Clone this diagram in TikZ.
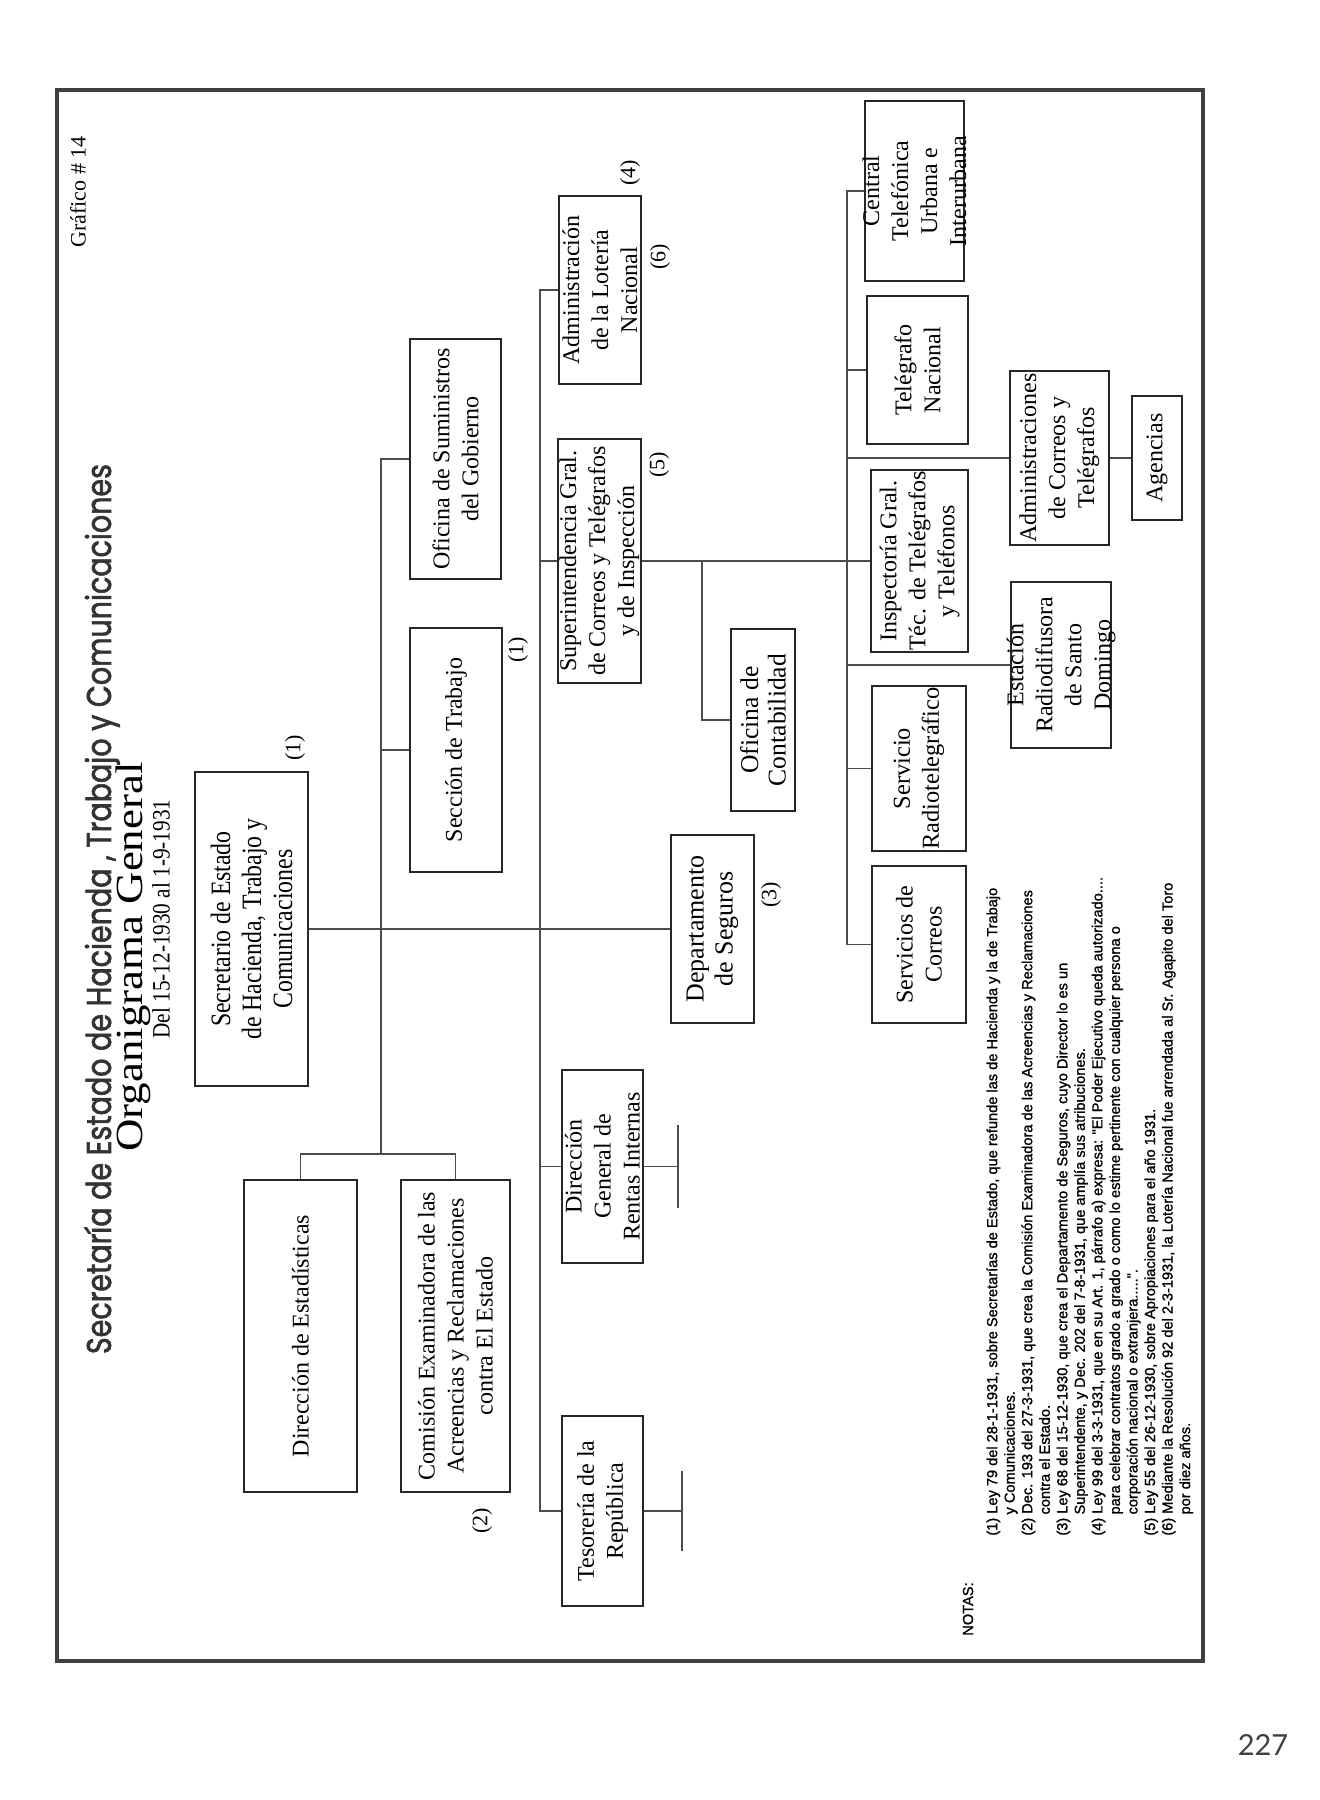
\documentclass[tikz,border=0pt]{standalone}
\usepackage{fontspec}
\setmainfont{Liberation Serif}
\newfontfamily\titlefont[FakeBold=2]{Poppins}
\newfontfamily\notefont[FakeBold=1.2]{Liberation Sans}
\newfontfamily\condfont[FakeStretch=0.85]{Liberation Serif}
\newfontfamily\wideserif[FakeStretch=1.17]{Liberation Serif}
\newfontfamily\pagefont{Lato}
\usetikzlibrary{fit}
\begin{document}
\begin{tikzpicture}[x=0.5pt,y=-0.5pt,
  box/.style={draw=black!85,line width=1.1pt,inner sep=0pt,rectangle},
  txt/.style={rotate=90,align=center,inner sep=0pt,font=\fontsize{12}{14.5}\selectfont},
  lbl/.style={rotate=90,inner sep=0pt,font=\fontsize{11}{13}\selectfont},
  conn/.style={draw=black!70,line width=0.75pt}]
\fill[white] (0,0) rectangle (1320,1800);
\useasboundingbox (0,0) rectangle (1320,1800);
% frame
\draw[line width=1.8pt,draw=black!75] (57,90) rectangle (1203,1661);
% headings
\node[rotate=90,inner sep=0pt,font=\fontsize{11}{13}\selectfont] (graf) at (78,192) {Gráfico \# 14};
\node[rotate=90,inner sep=0pt,text=black!80] (title) at (102,909) {\scalebox{1}[1.2]{\resizebox{445pt}{!}{\titlefont Secretaría de Estado de Hacienda , Trabajo y Comunicaciones}}};
\node[rotate=90,inner sep=0pt,font=\wideserif\fontsize{19.2}{23}\selectfont] (org) at (133,957) {Organigrama General};
\node[rotate=90,inner sep=0pt,font=\condfont\fontsize{12.5}{15}\selectfont] (del) at (161,919) {Del 15-12-1930 al 1-9-1931};
% boxes
\node[box,fit={(195,772) (308,1086)}] (sec) {};
\node[box,fit={(410,339) (501,579)}] (ofs) {};
\node[box,fit={(410,628) (502,872)}] (sdt) {};
\node[box,fit={(244,1180) (357,1492)}] (des) {};
\node[box,fit={(401,1180) (510,1492)}] (com) {};
\node[box,fit={(559,196) (641,384)}] (adm) {};
\node[box,fit={(558,439) (641,683)}] (sup) {};
\node[box,fit={(562,1070) (643,1263)}] (dgr) {};
\node[box,fit={(562,1416) (643,1606)}] (tes) {};
\node[box,fit={(671,835) (754,1023)}] (seg) {};
\node[box,fit={(731,629) (795,811)}] (con) {};
\node[box,fit={(865,101) (964,281)}] (cen) {};
\node[box,fit={(867,296) (968,444)}] (tel) {};
\node[box,fit={(871,470) (968,652)}] (ins) {};
\node[box,fit={(1011,582) (1111,748)}] (est) {};
\node[box,fit={(872,686) (966,851)}] (srt) {};
\node[box,fit={(872,866) (966,1023)}] (sco) {};
\node[box,fit={(1010,371) (1109,545)}] (adc) {};
\node[box,fit={(1132,396) (1182,520)}] (age) {};
% box texts
\node[txt,font=\condfont\fontsize{14}{15.5}\selectfont] (sec-t) at (sec.center) {Secretario de Estado\\de Hacienda, Trabajo y\\Comunicaciones};
\node[txt] (ofs-t) at (ofs.center) {Oficina de Suministros\\del Gobierno};
\node[txt] (sdt-t) at (sdt.center) {Sección de Trabajo};
\node[txt] (des-t) at (des.center) {Dirección de Estadísticas};
\node[txt] (com-t) at (com.center) {Comisión Examinadora de las\\Acreencias y Reclamaciones\\contra El Estado};
\node[txt] (adm-t) at (adm.center) {Administración\\de la Lotería\\Nacional};
\node[txt] (sup-t) at (sup.center) {Superintendencia Gral.\\de Correos y Telégrafos\\y de Inspección};
\node[txt] (dgr-t) at (dgr.center) {Dirección\\General de\\Rentas Internas};
\node[txt] (tes-t) at (tes.center) {Tesorería de la\\República};
\node[txt,font=\fontsize{13}{14.5}\selectfont] (seg-t) at (seg.center) {Departamento\\de Seguros};
\node[txt,font=\fontsize{12.8}{13.8}\selectfont] (con-t) at (con.center) {Oficina de\\Contabilidad};
\node[txt] (cen-t) at (cen.center) {Central\\Telefónica\\Urbana e\\Interurbana};
\node[txt] (tel-t) at (tel.center) {Telégrafo\\Nacional};
\node[txt] (ins-t) at (ins.center) {Inspectoría Gral.\\Téc. de Telégrafos\\y Teléfonos};
\node[txt] (est-t) at (est.center) {Estación\\Radiodifusora\\de Santo\\Domingo};
\node[txt,font=\fontsize{12.2}{14.5}\selectfont] (srt-t) at (srt.center) {Servicio\\Radiotelegráfico};
\node[txt] (sco-t) at (sco.center) {Servicios de\\Correos};
\node[txt] (adc-t) at (adc.center) {Administraciones\\de Correos y\\Telégrafos};
\node[txt] (age-t) at (age.center) {Agencias};
% note marks
\node[lbl] (n1a) at (295,748) {(1)};
\node[lbl] (n1b) at (518,650) {(1)};
\node[lbl] (n2) at (482,1521) {(2)};
\node[lbl] (n3) at (771,895) {(3)};
\node[lbl] (n4) at (630,173) {(4)};
\node[lbl] (n5) at (659,465) {(5)};
\node[lbl] (n6) at (660,257) {(6)};
% connectors
\coordinate (vA) at (381,1154);
\coordinate (vB) at (540,1511);
\coordinate (vC) at (847,944.5);
\coordinate (cj) at (702,561);
\draw[conn] (sec.east) -- (seg.west);
\draw[conn] (ofs.west) -| (vA);
\draw[conn] (sdt.west) -- (sdt.west -| vA);
\draw[conn] (des.north) |- (vA) -| (com.north);
\draw[conn] (adm.west) -| (vB) -- (tes.west);
\draw[conn] (sup.west) -- (sup.west -| vB);
\draw[conn] (dgr.west) -- (dgr.west -| vB);
\draw[conn] (sup.east) -- (ins.west);
\draw[conn] (cj) |- (con.west);
\draw[conn] (cen.west) -| (vC) -- (sco.west);
\draw[conn] (tel.west) -- (tel.west -| vC);
\draw[conn] (adc.west) -- (adc.west -| vC);
\draw[conn] (est.west) -- (est.west -| vC);
\draw[conn] (srt.west) -- (srt.west -| vC);
\draw[conn] (adc.east) -- (age.west);
\coordinate (dgrS) at (678,1166.5);
\coordinate (dgrA) at (678,1125);
\coordinate (dgrB) at (678,1208);
\draw[conn] (dgr.east) -- (dgrS);
\draw[conn] (dgrA) -- (dgrB);
\coordinate (tesS) at (682,1511);
\coordinate (tesA) at (682,1471);
\coordinate (tesB) at (682,1551);
\draw[conn] (tes.east) -- (tesS);
\draw[conn] (tesA) -- (tesB);
% notes
\node[rotate=90,inner sep=0pt,font=\notefont\fontsize{7.3}{8.8}\selectfont] (notas) at (968,1609) {NOTAS:};
\node[rotate=90,anchor=north west,inner sep=0pt,align=left,font=\notefont\fontsize{7.3}{8.77}\selectfont] (notes) at (986,1536) {%
(1) Ley 79 del 28-1-1931, sobre Secretarías de Estado, que refunde las de Hacienda y la de Trabajo\\
\hspace*{1.45em}y Comunicaciones.\\
(2) Dec. 193 del 27-3-1931, que crea la Comisión Examinadora de las Acreencias y Reclamaciones\\
\hspace*{1.45em}contra el Estado.\\
(3) Ley 68 del 15-12-1930, que crea el Departamento de Seguros, cuyo Director lo es un\\
\hspace*{1.45em}Superintendente, y Dec. 202 del 7-8-1931, que amplía sus atribuciones.\\
(4) Ley 99 del 3-3-1931, que en su Art. 1, párrafo a) expresa: "El Poder Ejecutivo queda autorizado....\\
\hspace*{1.45em}para celebrar contratos grado a grado o como lo estime pertinente con cualquier persona o\\
\hspace*{1.45em}corporación nacional o extranjera.....".\\
(5) Ley 55 del 26-12-1930, sobre Apropiaciones para el año 1931.\\
(6) Mediante la Resolución 92 del 2-3-1931, la Lotería Nacional fue arrendada al Sr. Agapito del Toro\\
\hspace*{1.45em}por diez años.};
% page number
\node[inner sep=0pt,font=\pagefont\fontsize{14.5}{17}\selectfont,text=black!75] (pg) at (1263,1745) {227};
\end{tikzpicture}
\end{document}
